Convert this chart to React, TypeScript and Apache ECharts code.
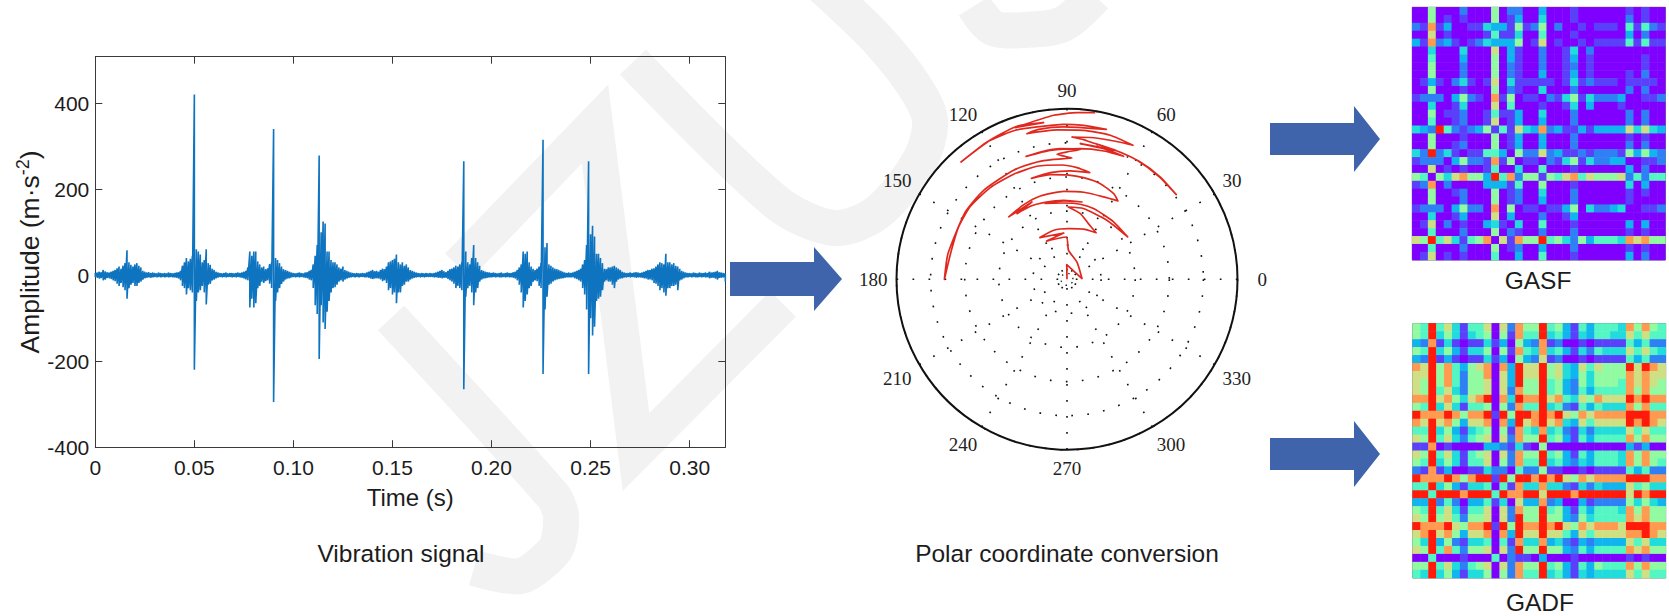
import React, { useEffect, useRef } from "react";
import * as echarts from "echarts";

const signalUp = [
  5,6,8,7,12,9,7,6,8,10, 12,16,20,15,22,28,58,30,24,20, 25,28,22,18,10,8,6,7,5,6, 5,4,6,5,4,5,4,6,5,4,
  5,6,7,10,22,30,40,32,38,45, 420,60,55,48,30,35,60,28,24,15, 12,8,6,5,4,5,6,4,5,5, 4,5,6,5,6,8,10,18,55,45,
  55,55,32,25,18,20,14,16,26,30, 340,40,35,28,20,14,12,10,8,6, 5,4,5,6,5,4,6,7,10,12, 25,45,70,278,100,125,120,55,55,35,
  30,30,25,18,15,20,12,10,8,6, 5,4,5,4,4,5,4,6,8,10, 12,9,10,8,12,15,14,20,30,32, 35,38,48,30,25,30,22,25,18,12,
  10,8,6,5,4,5,4,5,4,5, 4,5,6,8,10,12,9,7,10,14, 15,18,22,20,25,30,265,55,30,25, 40,70,40,30,22,12,10,8,7,6,
  5,6,5,4,5,6,4,5,6,5, 5,7,8,12,18,25,55,50,55,30, 20,15,12,15,20,28,315,65,75,25, 22,18,15,14,12,10,8,6,5,6,
  5,6,8,10,12,15,25,35,70,265, 95,115,90,50,50,40,28,15,14,18, 18,20,22,18,15,12,8,6,5,5, 6,5,6,7,6,5,6,8,10,12,
  12,15,16,20,25,30,28,25,50,30, 30,25,28,22,20,15,10,8,6,5, 5,4,6,5,4,6,5,5,6,5, 8,6,7,8,10,7,6,5,4,
];
const signalDown = [
  -4,-6,-8,-7,-12,-10,-6,-7,-9,-12, -14,-20,-25,-18,-28,-35,-55,-30,-22,-18, -25,-25,-18,-15,-10,-7,-6,-5,-6,-5, -4,-5,-4,-5,-4,-5,-4,-5,-4,-5,
  -5,-6,-8,-12,-25,-30,-45,-30,-35,-40, -220,-60,-40,-35,-25,-40,-68,-22,-20,-12, -10,-7,-5,-4,-5,-4,-5,-4,-4,-5, -4,-5,-4,-5,-6,-8,-10,-12,-75,-55,
  -75,-65,-30,-25,-15,-18,-14,-12,-20,-30, -295,-60,-40,-30,-20,-15,-10,-8,-7,-5, -4,-5,-4,-5,-4,-5,-6,-7,-10,-12, -30,-70,-90,-195,-70,-110,-125,-85,-60,-40,
  -30,-28,-22,-15,-12,-15,-10,-8,-6,-5, -4,-5,-4,-5,-4,-4,-5,-5,-6,-8, -9,-8,-7,-8,-10,-14,-12,-18,-35,-30, -45,-40,-65,-40,-40,-25,-22,-15,-15,-10,
  -8,-6,-5,-4,-5,-4,-5,-4,-4,-4, -4,-5,-5,-6,-6,-7,-6,-6,-9,-12, -15,-20,-30,-25,-30,-35,-265,-50,-30,-25, -40,-70,-40,-30,-15,-10,-8,-7,-6,-5,
  -5,-4,-5,-4,-5,-5,-4,-5,-4,-5, -5,-6,-8,-12,-22,-40,-75,-60,-45,-30, -25,-15,-12,-14,-25,-30,-230,-80,-50,-22, -20,-15,-12,-10,-9,-8,-7,-6,-5,-5,
  -5,-5,-7,-9,-12,-15,-30,-45,-80,-230, -100,-140,-120,-60,-55,-50,-35,-15,-12,-15, -15,-22,-30,-15,-10,-8,-7,-5,-5,-4, -5,-4,-5,-6,-5,-5,-6,-7,-8,-10,
  -10,-12,-18,-20,-25,-35,-30,-40,-48,-30, -30,-25,-25,-22,-35,-12,-10,-7,-5,-5, -4,-5,-4,-5,-5,-4,-5,-4,-5,-5, -7,-6,-6,-8,-10,-6,-6,-5,-15,
];
const sampleStep = 0.001;
const xTicks = [0, 0.05, 0.1, 0.15, 0.2, 0.25, 0.3];
const yTicks = [-400, -200, 0, 200, 400];

// [radius, angle in degrees]
const polarCurve = [
  [0,90],[.086,91],[.088,3],[.117,60],[.17,87],[.248,91],[.254,118],[.272,94],[.292,123],[.298,105],
  [.297,88],[.309,72],[.322,58],[.35,69],[.393,78.5],[.424,89],[.426,77],[.418,56],[.434,35],[.434,51],
  [.443,69],[.447,80],[.448,92.5],[.463,106],[.46,92.4],[.462,79],[.464,92.4],[.47,107],[.479,116.7],[.484,127.3],
  [.498,114.4],[.501,133],[.506,120],[.513,107.7],[.516,92],[.52,79],[.529,66],[.548,57],[.572,61.4],[.594,70.8],
  [.604,80.7],[.612,90],[.622,99],[.628,109.4],[.633,98.9],[.636,88.2],[.64,78],[.658,84.9],[.671,92.5],[.686,104.9],
  [.691,116.9],[.701,129.9],[.71,142.9],[.706,154.2],[.699,165.9],[.719,180],[.714,167.8],[.715,146.5],[.715,133.1],[.712,116.1],
  [.71,104.3],[.708,96.3],[.712,87.6],[.736,94.6],[.747,90],[.766,84.1],[.767,92.9],[.763,101.8],[.76,108.4],[.763,97.4],
  [.77,84.2],[.783,74],[.794,65.3],[.796,74.3],[.8,84.4],[.808,68.7],[.811,58],[.812,47.6],[.811,37.8],[.809,48.3],
  [.81,59.5],[.808,68.7],[.817,80.4],[.825,83.2],[.835,88],[.845,79.3],[.858,70.7],[.876,63.8],[.882,73.3],[.879,83.6],
  [.878,93.8],[.886,105.4],[.895,100.7],[.894,91.3],[.909,75.3],[.908,83.8],[.909,91.2],[.911,101.1],[.925,109.1],[.931,118.9],
  [.927,132.1],[.932,120.2],[.944,108.1],[.929,98.5],[.94,108.8],[.965,94.6],[.979,86.6],[.991,80.4],
];
const innerRingRadius = [.035,.035,.035,.035,.035,.035,.035,.035,.035,.035,.035,.035,.035];
const innerRingAngle = [0,30,60,90,120,150,180,210,240,270,300,330,360];

const gasfRows = [
  "00600020006022003000100000010100",
  "00601010006013004000100000020100",
  "21813001143316126020010111051521",
  "00701000015114005000100000030200",
  "31823101243336017010010111151511",
  "00400040007031002001402000000000",
  "00500030006031002001301000000100",
  "00600020006021002001201000000100",
  "00600020006021003001301000010200",
  "01310241017041111101412111011110",
  "00600010006021004000200000020200",
  "12220362108160110214614222300112",
  "00400140007050001001403000100000",
  "00601120015113004000200000020200",
  "00500120017013003000200000020200",
  "43295212361517438231131333374743",
  "00600010006013003000200000010100",
  "00600120006013003000200000020200",
  "42924101155306227231121222163632",
  "12220362218160110214614223300112",
  "00701010015004005000100000030200",
  "65064786639582661657857666725255",
  "12802000033315006000100000040300",
  "00600120006012004000200000010100",
  "00600020006012003000200000010000",
  "12220362208060110113604223400112",
  "00400130007030002001300000000000",
  "01702010034104005000100000030300",
  "00500020006021002000200000010100",
  "76957415680718669564263555487866",
  "00500020006012003000200000010100",
  "01701010005003005000100000030200",
];
const gadfRows = [
  "65957415570728669563153555486865",
  "65946414560618559453143554475755",
  "32814101141306328120010111153522",
  "65946314460618548453142544475754",
  "32913101141306327120010111153522",
  "87968536780839779674375766697987",
  "77968526680739779674364666687877",
  "76968526670739669563264666587876",
  "76957426670728669563253555586866",
  "88978647890849889785476877798988",
  "65947415560628559452153544486855",
  "98889868891969989897687888899988",
  "87978637780839789784375777798987",
  "55946314560618548452142444475755",
  "76957425670728669563153555586866",
  "11801000033214106000000000031300",
  "76957415670728669563153555486866",
  "65946415570628559453243555486865",
  "21813001142205226110010111153522",
  "98889868991969989897687888899988",
  "55946314450518448442142433375644",
  "99599989995988997999899999979899",
  "33925203351407338230031222264643",
  "65957415570728669563153555486866",
  "76967526670729669663264555587866",
  "98889768891969889897687888799988",
  "78978637780839779775375777788987",
  "64936214450518448342132333375744",
  "76958526670729669663253555587866",
  "00500010005021103000100000010100",
  "66957425670728669563153655586866",
  "54946314460628559453143444475755",
];

const rainbow = ["#7f00ff", "#5a40fb", "#2f7ff5", "#10b4ee", "#22dcdc", "#54f6c4", "#92fba2", "#cfe084", "#ff9a50", "#ff1a0a"];
const sans = "Liberation Sans";
const serif = "Liberation Serif";
const ink = "#1c1c1c";
const watermark = "#f2f2f2";
const arrowBlue = "#3f64ab";

function cells(rows: string[]) {
  const out: number[][] = [];
  rows.forEach((r, y) => r.split("").forEach((c, x) => out.push([x, y, Number(c)])));
  return out;
}

const idx32 = Array.from({ length: 32 }, (_, i) => String(i));

function arrowPoints(x0: number, xHead: number, xTip: number, cy: number, half: number, headHalf: number) {
  return [[x0, cy - half], [xHead, cy - half], [xHead, cy - headHalf], [xTip, cy], [xHead, cy + headHalf], [xHead, cy + half], [x0, cy + half]];
}

function band(points: number[][], smooth: number) {
  return {
    type: "polyline", z: -10, silent: true,
    shape: { points, smooth },
    style: { stroke: watermark, lineWidth: 36, fill: "none", lineJoin: "miter", miterLimit: 20, lineCap: "butt" },
  };
}

export default function App() {
  const ref = useRef<HTMLDivElement>(null);
  useEffect(() => {
    if (!ref.current) return;
    const chart = echarts.init(ref.current, null, { renderer: "svg" });
    const signal: number[][] = [];
    signalUp.forEach((u, i) => {
      const t = i * sampleStep;
      signal.push([t, u], [t, signalDown[i]]);
    });
    const plotAxis = {
      axisLine: { show: true, onZero: false, lineStyle: { color: "#3a3a3a", width: 1 } },
      splitLine: { show: false },
    };
    const titleStyle = { fontFamily: sans, fontSize: 24.5, fontWeight: "normal", color: ink };
    chart.setOption({
      animation: false,
      backgroundColor: "#fff",
      title: [
        { text: "Vibration signal", left: 396, top: 536, textAlign: "center", textStyle: titleStyle },
        { text: "Polar coordinate conversion", left: 1062, top: 536, textAlign: "center", textStyle: titleStyle },
        { text: "GASF", left: 1533, top: 263, textAlign: "center", textStyle: titleStyle },
        { text: "GADF", left: 1535, top: 585, textAlign: "center", textStyle: titleStyle },
      ],
      graphic: { elements: [
        band([[391,318],[553,496],[561,516],[556,548],[521,576],[474,568]], 0.25),
        band([[458,266],[595,124],[636,452],[783,304]], 0),
        band([[633,62],[776,202],[834,228],[878,212],[920,160],[930,120],[913,84],[878,40],[837,0],[815,-20]], 0.3),
        band([[974,6],[993,28],[1025,30],[1063,24],[1095,-4]], 0.3),
        { type: "polygon", z: 20, silent: true, shape: { points: arrowPoints(730, 814, 842, 279, 17, 32) }, style: { fill: arrowBlue } },
        { type: "polygon", z: 20, silent: true, shape: { points: arrowPoints(1270, 1354, 1380, 139, 16, 33) }, style: { fill: arrowBlue } },
        { type: "polygon", z: 20, silent: true, shape: { points: arrowPoints(1270, 1354, 1380, 454, 16, 33) }, style: { fill: arrowBlue } },
      ] },
      grid: [
        { left: 95.3, top: 56.7, width: 630, height: 390.5 },
        { left: 1412.3, top: 7.3, width: 253, height: 252.7, show: true, borderColor: "#666", borderWidth: 1, backgroundColor: "transparent" },
        { left: 1412.7, top: 323.5, width: 253, height: 254.5, show: true, borderColor: "#777", borderWidth: 1, backgroundColor: "transparent" },
      ],
      xAxis: [
        { ...plotAxis, type: "value", gridIndex: 0, position: "bottom", min: 0, max: 0.318,
          name: "Time (s)", nameLocation: "middle", nameGap: 38, nameTextStyle: { fontFamily: sans, fontSize: 24, color: ink },
          axisTick: { inside: true, length: 7, lineStyle: { color: "#3a3a3a" }, customValues: xTicks },
          axisLabel: { fontFamily: sans, fontSize: 21, color: ink, margin: 10, customValues: xTicks, formatter: (v: number) => (v === 0 ? "0" : v.toFixed(2)), showMinLabel: true, showMaxLabel: true } },
        { ...plotAxis, type: "value", gridIndex: 0, position: "top", min: 0, max: 0.318,
          axisTick: { inside: true, length: 7, lineStyle: { color: "#3a3a3a" }, customValues: xTicks }, axisLabel: { show: false } },
        { type: "category", gridIndex: 1, data: idx32, show: false },
        { type: "category", gridIndex: 2, data: idx32, show: false },
      ],
      yAxis: [
        { ...plotAxis, type: "value", gridIndex: 0, position: "left", min: -400, max: 508,
          name: "{n|Amplitude (m·s}{s|-2}{n|)}", nameLocation: "middle", nameGap: 50, nameRotate: 90,
          nameTextStyle: { rich: { n: { fontFamily: sans, fontSize: 26.5, color: ink, lineHeight: 31 }, s: { fontFamily: sans, fontSize: 18, color: ink, verticalAlign: "top", lineHeight: 31 } } },
          axisTick: { inside: true, length: 7, lineStyle: { color: "#3a3a3a" }, customValues: yTicks },
          axisLabel: { fontFamily: sans, fontSize: 21, color: ink, margin: 6, customValues: yTicks } },
        { ...plotAxis, type: "value", gridIndex: 0, position: "right", min: -400, max: 508,
          axisTick: { inside: true, length: 7, lineStyle: { color: "#3a3a3a" }, customValues: yTicks }, axisLabel: { show: false } },
        { type: "category", gridIndex: 1, data: idx32, inverse: true, show: false },
        { type: "category", gridIndex: 2, data: idx32, inverse: true, show: false },
      ],
      polar: { center: [1067, 279.3], radius: 170.5 },
      angleAxis: {
        type: "value", min: 0, max: 360, interval: 30, startAngle: 0, clockwise: false,
        axisLine: { show: true, lineStyle: { color: "#111", width: 2 } },
        axisTick: { show: false },
        axisLabel: { fontFamily: serif, fontSize: 19, color: "#222", margin: 9,
          formatter: (v: number) => (v === 0 ? "{z|0}" : String(v)),
          rich: { z: { fontFamily: serif, fontSize: 19, color: "#222", padding: [0, 0, 0, 11] } } },
        splitLine: { show: true, lineStyle: { color: "#111", width: 1.6, type: [1.7, 14.3] } },
      },
      radiusAxis: {
        type: "value", min: 0, max: 1, interval: 0.2,
        axisLine: { show: false }, axisTick: { show: false }, axisLabel: { show: false },
        splitLine: { show: true, lineStyle: { color: "#111", width: 1.6, type: [1.7, 14.3] } },
      },
      visualMap: { show: false, type: "continuous", min: 0, max: 9, seriesIndex: [3, 4], dimension: 2, inRange: { color: rainbow } },
      series: [
        { type: "line", name: "Vibration signal", xAxisIndex: 0, yAxisIndex: 0, data: signal, showSymbol: false, lineStyle: { color: "#0f74c0", width: 1.6 }, z: 3 },
        { type: "line", name: "Polar trajectory", coordinateSystem: "polar", data: polarCurve, smooth: 0.2, showSymbol: false, lineStyle: { color: "#e0281e", width: 1.7, join: "round" }, z: 4 },
        { type: "line", name: "Inner ring", coordinateSystem: "polar", data: innerRingRadius.map((r, i) => [r, innerRingAngle[i]]), smooth: true, showSymbol: false, lineStyle: { color: "#222", width: 1.3, type: [1.6, 5] }, z: 3 },
        { type: "heatmap", name: "GASF", xAxisIndex: 2, yAxisIndex: 2, data: cells(gasfRows) },
        { type: "heatmap", name: "GADF", xAxisIndex: 3, yAxisIndex: 3, data: cells(gadfRows) },
      ],
    });
    return () => chart.dispose();
  }, []);
  return <div ref={ref} style={{ position: "fixed", left: 0, top: 0, width: 1669, height: 616 }} />;
}
